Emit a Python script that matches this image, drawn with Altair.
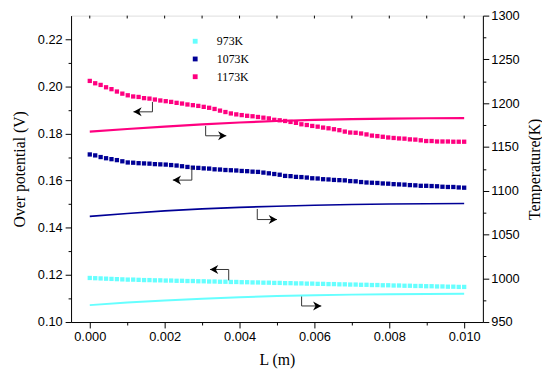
import altair as alt
import pandas as pd

# ---------------- data ----------------
series = ["973K", "1073K", "1173K"]
colors = ["#66FFFF", "#000096", "#FF0080"]

n_pts = 70
L_pts = [i * 0.01 / (n_pts - 1) for i in range(n_pts)]

V_973 = [0.1187, 0.1186, 0.1185, 0.1184, 0.1183, 0.1182, 0.1181, 0.1180, 0.1180, 0.1179,
         0.1178, 0.1178, 0.1177, 0.1177, 0.1176, 0.1176, 0.1175, 0.1175, 0.1174, 0.1174,
         0.1173, 0.1173, 0.1172, 0.1172, 0.1171, 0.1171, 0.1170, 0.1170, 0.1169, 0.1169,
         0.1168, 0.1168, 0.1167, 0.1167, 0.1166, 0.1166, 0.1165, 0.1165, 0.1164, 0.1164,
         0.1163, 0.1163, 0.1162, 0.1162, 0.1161, 0.1161, 0.1160, 0.1160, 0.1159, 0.1159,
         0.1158, 0.1158, 0.1157, 0.1157, 0.1156, 0.1156, 0.1155, 0.1155, 0.1154, 0.1154,
         0.1153, 0.1153, 0.1152, 0.1152, 0.1151, 0.1151, 0.1150, 0.1150, 0.1149, 0.1149]

V_1073 = [0.1711, 0.1707, 0.1700, 0.1695, 0.1691, 0.1687, 0.1682, 0.1677, 0.1676, 0.1674,
          0.1673, 0.1672, 0.1670, 0.1669, 0.1668, 0.1666, 0.1664, 0.1661, 0.1658, 0.1655,
          0.1654, 0.1652, 0.1651, 0.1648, 0.1647, 0.1645, 0.1644, 0.1643, 0.1641, 0.1640,
          0.1638, 0.1637, 0.1634, 0.1631, 0.1628, 0.1625, 0.1620, 0.1619, 0.1616, 0.1615,
          0.1613, 0.1610, 0.1609, 0.1606, 0.1605, 0.1603, 0.1602, 0.1601, 0.1598, 0.1597,
          0.1594, 0.1592, 0.1591, 0.1590, 0.1588, 0.1587, 0.1585, 0.1584, 0.1583, 0.1581,
          0.1580, 0.1578, 0.1578, 0.1577, 0.1576, 0.1574, 0.1573, 0.1573, 0.1571, 0.1570]

V_1173 = [0.2023, 0.2013, 0.2006, 0.1996, 0.1988, 0.1978, 0.1969, 0.1962, 0.1957, 0.1955,
          0.1950, 0.1948, 0.1944, 0.1940, 0.1937, 0.1934, 0.1930, 0.1927, 0.1923, 0.1920,
          0.1917, 0.1913, 0.1909, 0.1904, 0.1897, 0.1891, 0.1885, 0.1881, 0.1878, 0.1875,
          0.1873, 0.1870, 0.1867, 0.1864, 0.1858, 0.1856, 0.1853, 0.1849, 0.1845, 0.1839,
          0.1836, 0.1832, 0.1829, 0.1825, 0.1822, 0.1818, 0.1814, 0.1808, 0.1804, 0.1803,
          0.1800, 0.1796, 0.1791, 0.1789, 0.1786, 0.1783, 0.1781, 0.1779, 0.1778, 0.1775,
          0.1774, 0.1771, 0.1768, 0.1768, 0.1766, 0.1766, 0.1766, 0.1765, 0.1765, 0.1765]

L_line = [0.000, 0.001, 0.002, 0.003, 0.004, 0.005, 0.006, 0.007, 0.008, 0.009, 0.010]
T_973 = [969.3, 972.3, 974.7, 976.7, 978.4, 979.7, 980.6, 981.3, 981.8, 982.1, 982.3]
T_1073 = [1070.7, 1074.0, 1077.0, 1079.3, 1081.0, 1082.3, 1083.4, 1084.2, 1084.8, 1085.2, 1085.4]
T_1173 = [1167.5, 1170.5, 1173.3, 1175.8, 1177.9, 1179.6, 1180.9, 1181.8, 1182.4, 1182.8, 1183.0]
line_widths = [2.0, 1.6, 2.2]

# arrow annotations (x in m, y in V on the left axis)
arrow_vx = [0.001674, 0.003095, 0.002726, 0.004474, 0.003711, 0.005658]
arrow_y_start = [0.19336, 0.18320, 0.16577, 0.14796, 0.11770, 0.11100]
arrow_y_bend = [0.18918, 0.17902, 0.16021, 0.14348, 0.12229, 0.10682]
arrow_tip_x = [0.001166, 0.003647, 0.002218, 0.005000, 0.003211, 0.006184]
arrow_dir = ["left", "right", "left", "right", "left", "right"]

# ---------------- tables ----------------
sq_rows = []
for s, vals in zip(series, [V_973, V_1073, V_1173]):
    for x, v in zip(L_pts, vals):
        sq_rows.append({"L": x, "V": v, "series": s})
sq_df = pd.DataFrame(sq_rows)

ln_rows = []
for s, vals, w in zip(series, [T_973, T_1073, T_1173], line_widths):
    for x, t in zip(L_line, vals):
        ln_rows.append({"L": x, "T": t, "series": s, "w": w})
ln_df = pd.DataFrame(ln_rows)

seg_rows = []
head_rows = []
for vx, y0, y1, tx, d in zip(arrow_vx, arrow_y_start, arrow_y_bend, arrow_tip_x, arrow_dir):
    seg_rows.append({"x": vx, "x2": vx, "y": y0, "y2": y1})
    seg_rows.append({"x": vx, "x2": tx, "y": y1, "y2": y1})
    head_rows.append({"x": tx, "y": y1, "dir": d})
seg_df = pd.DataFrame(seg_rows)
head_df = pd.DataFrame(head_rows)

# ---------------- scales / axes ----------------
SANS = "Liberation Sans"
SERIF = "Liberation Serif"

x_dom = [-0.0005, 0.0105]
yl_dom = [0.10, 0.23]
x_scale = alt.Scale(domain=x_dom, nice=False, zero=False)
yl_scale = alt.Scale(domain=yl_dom, nice=False, zero=False)
yr_scale = alt.Scale(domain=[950, 1300], nice=False, zero=False)

x_vals = [round(i * 0.001, 3) for i in range(11)]
yl_vals = [round(0.10 + i * 0.01, 2) for i in range(13)]
yr_vals = [950 + 25 * i for i in range(15)]

# top frame ticks (inward), in data units
top_df = pd.DataFrame({"x": x_vals, "y": [yl_dom[1]] * len(x_vals),
                       "y2": [yl_dom[1] - 0.0012] * len(x_vals)})

common = dict(grid=False, domainColor="black", tickColor="black", labelColor="black",
              titleColor="black", labelFont=SANS, labelFontSize=13, titleFont=SERIF,
              titleFontSize=16, titleFontWeight="normal", domainWidth=1, tickWidth=1)

x_axis = alt.Axis(title="L (m)", values=x_vals,
                  labelExpr="round(datum.value*1000) % 2 == 0 ? format(datum.value, '.3f') : ''",
                  tickSize={"condition": {"test": "round(datum.value*1000) % 2 == 0", "value": 6}, "value": 3},
                  labelPadding=3, titlePadding=8, **common)
yl_axis = alt.Axis(title="Over potential (V)", values=yl_vals, orient="left",
                   labelExpr="round(datum.value*100) % 2 == 0 ? format(datum.value, '.2f') : ''",
                   tickSize={"condition": {"test": "round(datum.value*100) % 2 == 0", "value": 6}, "value": 3},
                   labelPadding=3, titlePadding=10, **common)
yr_axis = alt.Axis(title="Temperature(K)", values=yr_vals, orient="right",
                   labelExpr="datum.value % 50 == 0 ? format(datum.value, 'd') : ''",
                   tickSize={"condition": {"test": "datum.value % 50 == 0", "value": 6}, "value": 3},
                   labelPadding=2, titlePadding=8, titleAngle=270, titleBaseline="top", **common)

color_scale = alt.Scale(domain=series, range=colors)

squares = alt.Chart(sq_df).mark_square(size=19, opacity=1).encode(
    x=alt.X("L:Q", scale=x_scale, axis=x_axis),
    y=alt.Y("V:Q", scale=yl_scale, axis=yl_axis),
    color=alt.Color("series:N", scale=color_scale, sort=series,
                    legend=alt.Legend(title=None, orient="none", legendX=120, legendY=20,
                                      symbolType="square", symbolSize=24, symbolStrokeWidth=0,
                                      labelFont=SERIF, labelFontSize=12, labelColor="black",
                                      labelOffset=16, rowPadding=6, padding=0)),
)

segs = alt.Chart(seg_df).mark_rule(color="#333333", strokeWidth=1).encode(
    x=alt.X("x:Q", scale=x_scale, axis=x_axis),
    x2="x2:Q",
    y=alt.Y("y:Q", scale=yl_scale, axis=yl_axis),
    y2="y2:Q",
)

top_ticks = alt.Chart(top_df).mark_rule(color="black", strokeWidth=1).encode(
    x=alt.X("x:Q", scale=x_scale, axis=x_axis),
    y=alt.Y("y:Q", scale=yl_scale, axis=yl_axis),
    y2="y2:Q",
)

left_path = "M0,0 L2,-1.1 L1.4,0 L2,1.1 Z"
right_path = "M0,0 L-2,-1.1 L-1.4,0 L-2,1.1 Z"
heads = alt.Chart(head_df).mark_point(filled=True, size=70, opacity=1, color="black").encode(
    x=alt.X("x:Q", scale=x_scale, axis=x_axis),
    y=alt.Y("y:Q", scale=yl_scale, axis=yl_axis),
    shape=alt.Shape("dir:N", scale=alt.Scale(domain=["left", "right"], range=[left_path, right_path]),
                    legend=None),
)

left_layer = alt.layer(squares, segs, heads, top_ticks)

lines = alt.Chart(ln_df).mark_line().encode(
    x=alt.X("L:Q", scale=x_scale, axis=x_axis),
    y=alt.Y("T:Q", scale=yr_scale, axis=yr_axis),
    color=alt.Color("series:N", scale=color_scale, legend=None),
    strokeWidth=alt.StrokeWidth("w:Q", scale=None, legend=None),
    detail="series:N",
)

chart = alt.layer(left_layer, lines).resolve_scale(
    y="independent", color="independent", shape="independent"
).properties(
    width=418, height=311,
    autosize=alt.AutoSizeParams(type="none"),
    padding={"left": 64, "top": 5, "right": 60, "bottom": 50},
).configure_view(stroke="black", strokeWidth=1).configure(background="white")

chart.save("out.html", embed_options={"renderer": "svg", "actions": False})
